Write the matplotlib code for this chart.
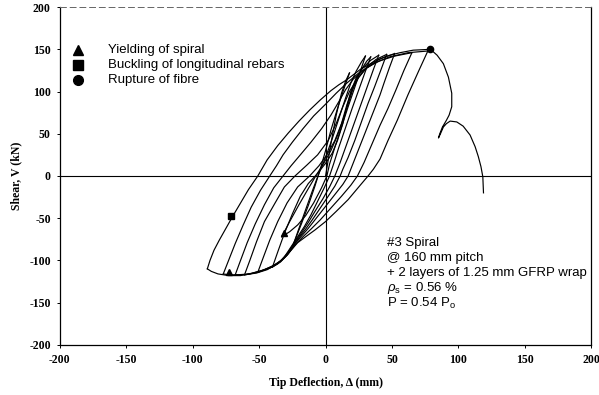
import matplotlib
matplotlib.use("Agg")
import matplotlib.pyplot as plt

# ---- Hysteresis record: tip deflection (mm) vs. shear (kN), branch by branch ----
initial_load = [(0, 0), (4, 38), (8, 72), (12, 98), (15, 112), (18, 122)]

unload_1 = [(18, 122), (14, 104), (9, 80), (4, 54), (0, 30), (-4, 8), (-8, -12),
            (-13, -35), (-18, -56), (-22, -72), (-24, -80)]
reload_1 = [(-24, -80), (-20, -62), (-15, -40), (-10, -18), (-5, 3), (0, 22), (5, 44),
            (10, 68), (15, 92), (19, 110), (23, 124), (27, 135), (30, 142)]

unload_2 = [(30, 142), (27, 128), (22, 105), (17, 82), (12, 58), (7, 34), (3, 14), (1, 0),
            (-3, -14), (-9, -32), (-15, -47), (-21, -58), (-27, -66), (-33, -72)]
reload_2 = [(-33, -72), (-27, -54), (-20, -34), (-13, -15), (-7, 1), (-1, 16), (4, 30),
            (9, 48), (13, 66), (17, 85), (20, 100), (23, 114), (27, 126), (31, 136), (34, 141)]

unload_3 = [(34, 141), (30, 124), (25, 102), (20, 80), (15, 57), (10, 34), (6, 14), (3, 0),
            (-1, -14), (-6, -30), (-11, -46), (-16, -60), (-21, -72), (-26, -84),
            (-31, -96), (-36, -104), (-40, -108)]
reload_3 = [(-40, -108), (-36, -90), (-31, -68), (-25, -45), (-19, -24), (-13, -9), (-6, 3),
            (0, 15), (5, 27), (9, 42), (13, 62), (16, 82), (19, 100), (23, 116), (28, 128),
            (34, 137), (40, 143)]

unload_4 = [(40, 143), (36, 126), (31, 104), (26, 82), (21, 60), (16, 38), (11, 16), (7, 0),
            (3, -13), (-2, -27), (-8, -42), (-13, -55), (-18, -67), (-23, -78), (-28, -90),
            (-34, -101), (-42, -109), (-51, -114)]
reload_4 = [(-51, -114), (-47, -97), (-42, -76), (-36, -54), (-29, -32), (-21, -13), (-12, 0),
            (-5, 12), (1, 25), (7, 42), (12, 62), (16, 84), (20, 102), (25, 117), (31, 129),
            (38, 138), (46, 144)]

unload_5 = [(46, 144), (42, 127), (37, 106), (32, 86), (27, 64), (22, 42), (17, 22), (13, 8),
            (11, 0), (7, -12), (2, -24), (-4, -38), (-10, -52), (-15, -63), (-20, -73),
            (-24, -82), (-29, -94), (-36, -104), (-44, -111), (-52, -115), (-61, -117)]
reload_5 = [(-61, -117), (-57, -100), (-52, -78), (-46, -54), (-38, -32), (-31, -13), (-23, 0),
            (-14, 13), (-6, 25), (2, 42), (8, 62), (13, 82), (18, 100), (24, 115), (31, 128),
            (40, 138), (52, 145)]

unload_6 = [(52, 145), (48, 128), (44, 110), (41, 96), (36, 76), (31, 56), (26, 36), (21, 16),
            (17, 0), (13, -10), (7, -22), (0, -36), (-7, -50), (-13, -62), (-18, -71),
            (-23, -80), (-28, -92), (-34, -102), (-42, -109), (-51, -114), (-60, -117),
            (-68, -117)]
reload_6 = [(-68, -117), (-64, -100), (-59, -79), (-53, -57), (-46, -34), (-39, -14), (-32, 0),
            (-26, 12), (-19, 25), (-11, 40), (-3, 56), (4, 72), (10, 88), (15, 102), (21, 115),
            (30, 127), (40, 136), (52, 142), (65, 146)]

unload_7 = [(65, 146), (59, 125), (53, 102), (47, 80), (41, 60), (35, 38), (29, 16), (24, 0),
            (19, -11), (12, -24), (4, -38), (-4, -52), (-11, -63), (-17, -72), (-22, -80),
            (-27, -90), (-33, -100), (-40, -107), (-48, -112), (-57, -116), (-66, -117),
            (-73, -117), (-77, -116)]
reload_7 = [(-77, -116), (-73, -100), (-68, -80), (-62, -58), (-56, -37), (-49, -17), (-42, 0),
            (-37, 12), (-32, 25), (-25, 40), (-17, 56), (-9, 71), (0, 85), (8, 98), (16, 110),
            (25, 122), (36, 133), (48, 141), (62, 146), (77, 148)]

unload_8 = [(77, 148), (70, 124), (62, 96), (54, 66), (47, 42), (41, 20), (36, 8), (32, 0),
            (25, -13), (17, -28), (8, -42), (0, -54), (-8, -64), (-15, -72), (-21, -79),
            (-26, -88), (-31, -97), (-38, -105), (-46, -111), (-55, -115), (-64, -118),
            (-73, -118), (-81, -116), (-86, -113), (-89, -110)]
reload_8 = [(-89, -110), (-87, -100), (-84, -88), (-80, -76), (-75, -62), (-70, -48), (-64, -32),
            (-58, -16), (-51, 0), (-44, 19), (-36, 36), (-28, 51), (-20, 65), (-12, 78),
            (-4, 90), (4, 101), (10, 108), (16, 114), (26, 126), (36, 135), (46, 142),
            (56, 146), (66, 149), (79, 150)]

post_peak = [(79, 150), (84, 143), (88.7, 133), (92.5, 117), (95, 98), (95, 82), (93, 72),
             (91, 66), (88, 58), (86, 50), (85, 45), (86.5, 50), (88.7, 58), (91, 62),
             (93.8, 65), (98.8, 64), (103.6, 59), (108.8, 48.5), (112.6, 34.7), (115, 23),
             (117, 11), (118.4, -1), (118.9, -20)]

# Damage events
yield_x, yield_y = [-31, -73], [-68, -114]
buckle_x, buckle_y = [-71], [-47]
rupture_x, rupture_y = [78.5], [150]

legend_labels = ["Yielding of spiral", "Buckling of longitudinal rebars", "Rupture of fibre"]
spec_lines = ["#3 Spiral", "@ 160 mm pitch", "+ 2 layers of 1.25 mm GFRP wrap",
              r"$\rho_{\mathrm{s}}$ = 0.56 %", r"P = 0.54 P$_{\mathrm{o}}$"]
ticks = [-200, -150, -100, -50, 0, 50, 100, 150, 200]

branches = [initial_load,
            unload_1, reload_1, unload_2, reload_2, unload_3, reload_3, unload_4, reload_4,
            unload_5, reload_5, unload_6, reload_6, unload_7, reload_7, unload_8, reload_8,
            post_peak]

plt.rcParams["axes.unicode_minus"] = False
plt.rcParams["mathtext.fontset"] = "custom"
plt.rcParams["mathtext.rm"] = "Liberation Sans"
plt.rcParams["mathtext.it"] = "Liberation Sans:italic"

fig = plt.figure(figsize=(5.99, 3.95), dpi=100)
ax = fig.add_axes([0.100, 0.127, 0.887, 0.855])

for br in branches:
    xs = [p[0] for p in br]
    ys = [p[1] for p in br]
    ax.plot(xs, ys, color="black", lw=0.85, solid_joinstyle="round")

ax.axhline(0, color="black", lw=0.8, zorder=0)
ax.axvline(0, color="black", lw=0.8, zorder=0)

ax.plot(yield_x, yield_y, "k^", ms=4, zorder=5)
ax.plot(buckle_x, buckle_y, "ks", ms=4.5, zorder=5)
ax.plot(rupture_x, rupture_y, "ko", ms=4.5, zorder=5)

# Legend drawn as marker + text rows
legend_y = [149, 131, 114]
for mk, ly, lab in zip(["^", "s", "o"], legend_y, legend_labels):
    ax.plot([-186], [ly], marker=mk, color="black", ms=7, clip_on=False)
    ax.text(-164, ly, lab, fontsize=9.5, family="Liberation Sans", va="center", ha="left")

for i, line in enumerate(spec_lines):
    ax.text(46, -79 - i * 18, line, fontsize=9.5, family="Liberation Sans",
            va="center", ha="left")

ax.set_xlim(-200, 200)
ax.set_ylim(-200, 200)
ax.set_xticks(ticks)
ax.set_yticks(ticks)
for lab in ax.get_xticklabels() + ax.get_yticklabels():
    lab.set_family("Liberation Serif")
    lab.set_fontweight("bold")
    lab.set_fontsize(8.5)
ax.tick_params(direction="out", length=2.5, width=0.7, pad=4)

ax.set_xlabel("Tip Deflection, \u0394 (mm)", family="Liberation Serif",
              fontweight="bold", fontsize=8.5, labelpad=8)
ax.set_ylabel("Shear, V (kN)", family="Liberation Serif",
              fontweight="bold", fontsize=8.5, labelpad=5)

for side in ["left", "bottom", "right"]:
    ax.spines[side].set_linewidth(0.9)
ax.spines["top"].set_linewidth(0.7)
ax.spines["top"].set_linestyle((0, (6, 4)))
ax.spines["top"].set_color("#666666")

fig.savefig("out.png", dpi=100)
